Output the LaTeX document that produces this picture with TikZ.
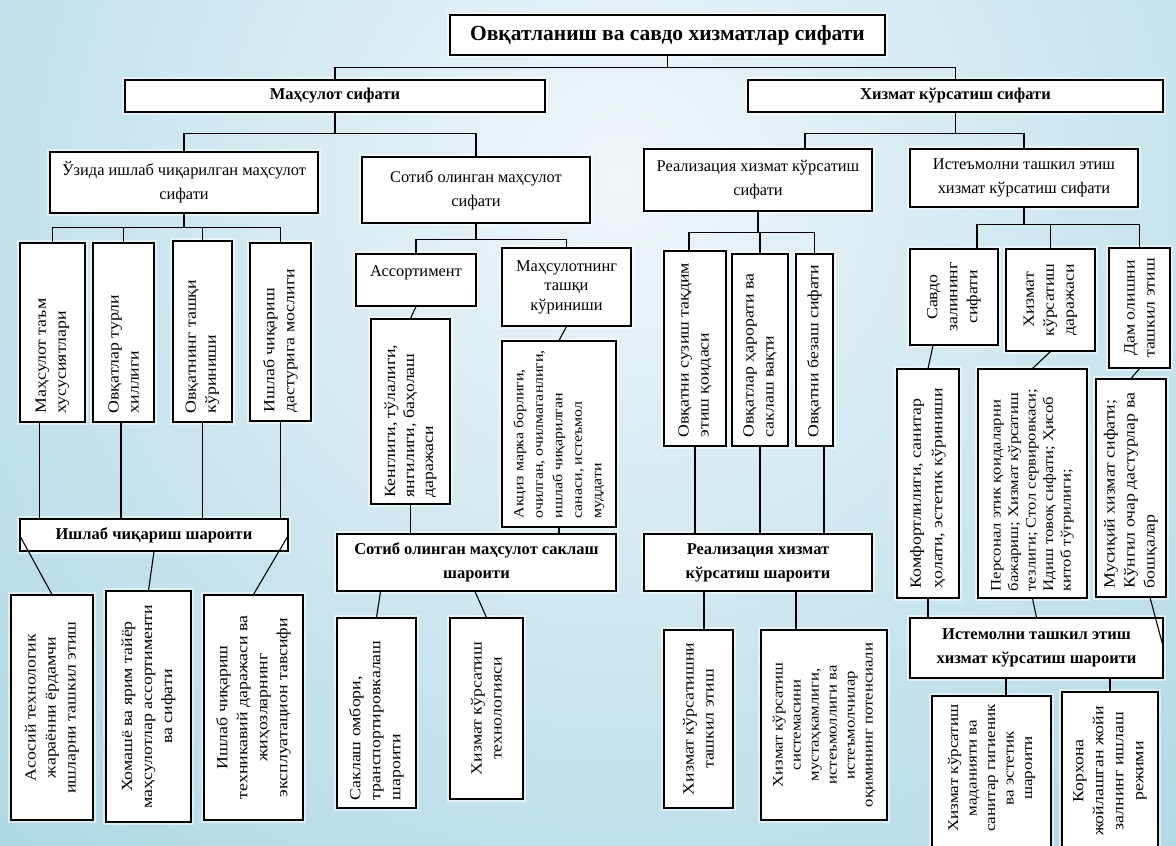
\documentclass[tikz,border=0pt]{standalone}
\usepackage{fontspec}
\setmainfont{Liberation Serif}
\definecolor{bgin}{RGB}{238,246,249}
\definecolor{bgout}{RGB}{150,204,221}
\tikzset{
 bx/.style={draw=black, fill=white, line width=1.1pt, inner sep=0pt,
   preaction={draw=white, line width=6pt, draw opacity=0.5}},
 ht/.style={align=center, font=\fontsize{16.4}{24}\selectfont},
 hb/.style={align=center, font=\fontsize{16.5}{24}\selectfont\bfseries},
 vt/.style={rotate=90, xscale=1.15, align=center, inner sep=0pt, font=\fontsize{15.5}{20}\selectfont},
 vtl/.style={vt, align=left, anchor=west},
 ln/.style={draw=black, line width=1.1pt},
}
\begin{document}
\begin{tikzpicture}[x=1pt,y=-1pt]
\useasboundingbox (0,0) rectangle (1176,846);
\clip (0,0) rectangle (1176,846);
\shade[inner color=bgin, outer color=bgout] (620,180) circle (1250);

% level 0-1
\node[bx, minimum width=435, minimum height=40, align=center, font=\fontsize{21.5}{24}\selectfont\bfseries] (T) at (667.5,35) {Овқатланиш ва савдо хизматлар сифати};
\node[bx, hb, minimum width=420, minimum height=32] (P) at (335,96) {Маҳсулот сифати};
\node[bx, hb, minimum width=415, minimum height=32] (S) at (955.5,96) {Хизмат кўрсатиш сифати};

% level 2
\node[bx, ht, minimum width=268, minimum height=61] (A) at (184,182.5) {Ўзида ишлаб чиқарилган маҳсулот\\сифати};
\node[bx, ht, minimum width=228, minimum height=66] (B) at (476,190) {Сотиб олинган маҳсулот\\сифати};
\node[bx, ht, minimum width=228, minimum height=62] (C) at (758,180) {Реализация хизмат кўрсатиш\\сифати};
\node[bx, ht, minimum width=228, minimum height=58] (D) at (1024,178) {Истеъмолни ташкил этиш\\хизмат кўрсатиш сифати};

% under A
\node[bx, minimum width=65, minimum height=179] (a1) at (52.5,332.5) {};
\node[bx, minimum width=61, minimum height=179] (a2) at (123.5,332.5) {};
\node[bx, minimum width=59, minimum height=181] (a3) at (202.5,331.5) {};
\node[bx, minimum width=61, minimum height=178] (a4) at (280.5,332) {};
\node[vtl] (a1t) at ([yshift=9pt]a1.south) {Маҳсулот таъм\\хусусиятлари};
\node[vtl] (a2t) at ([yshift=9pt]a2.south) {Овқатлар турли\\хиллиги};
\node[vtl] (a3t) at ([yshift=9pt]a3.south) {Овқатнинг ташқи\\кўриниши};
\node[vtl] (a4t) at ([yshift=9pt]a4.south) {Ишлаб чиқариш\\дастурига мослиги};
\node[bx, hb, minimum width=268, minimum height=32] (W) at (154,535) {Ишлаб чиқариш шароити};
\node[bx, minimum width=82, minimum height=225] (b1) at (52,707.5) {};
\node[bx, minimum width=85, minimum height=231] (b2) at (148.5,706.5) {};
\node[bx, minimum width=99, minimum height=225] (b3) at (253.5,707.5) {};
\node[vt] (b1t) at (b1) {Асосий технологик\\жараённи ёрдамчи\\ишларни ташкил этиш};
\node[vt] (b2t) at (b2) {Хомашё ва ярим тайёр\\маҳсулотлар ассортименти\\ва сифати};
\node[vt] (b3t) at (b3) {Ишлаб чиқариш\\техникавий даражаси ва\\жиҳозларнинг\\эксплуатацион тавсифи};

% under B
\node[bx, ht, minimum width=120, minimum height=52] (As) at (416,280) {Ассортимент\\[-6pt]\mbox{}};
\node[bx, align=center, font=\fontsize{16.4}{19.5}\selectfont, minimum width=129, minimum height=78] (M) at (566.5,287) {Маҳсулотнинг\\ташқи\\кўриниши};
\node[bx, minimum width=79, minimum height=185] (K) at (410.5,411.5) {};
\node[bx, minimum width=114, minimum height=186] (Z) at (559,434) {};
\node[vtl, font=\fontsize{15.5}{19}\selectfont] (Kt) at ([yshift=7pt]K.south) {Кенглиги, тўлалиги,\\янгилиги, баҳолаш\\даражаси};
\node[vtl, font=\fontsize{13.8}{19.5}\selectfont] (Zt) at ([yshift=9pt]Z.south) {Акциз марка борлиги,\\очилган, очилмаганлиги,\\ишлаб чиқарилган\\санаси, истеъмол\\муддати};
\node[bx, hb, minimum width=279, minimum height=57] (SS) at (476.5,562.5) {Сотиб олинган маҳсулот саклаш\\шароити};
\node[bx, minimum width=79, minimum height=190] (g1) at (376.5,713) {};
\node[bx, minimum width=73, minimum height=181] (g2) at (486.5,708.5) {};
\node[vtl] (g1t) at ([yshift=8pt]g1.south) {Саклаш омбори,\\транспортировкалаш\\шароити};
\node[vt] (g2t) at (g2) {Хизмат кўрсатиш\\технологияси};

% under C
\node[bx, minimum width=62, minimum height=195] (c1) at (695,348.5) {};
\node[bx, minimum width=56, minimum height=192] (c2) at (760,350) {};
\node[bx, minimum width=37, minimum height=192] (c3) at (814.5,350) {};
\node[vtl] (c1t) at ([yshift=9pt]c1.south) {Овқатни сузиш тақдим\\этиш қоидаси};
\node[vtl] (c2t) at ([yshift=9pt]c2.south) {Овқатлар ҳарорати ва\\саклаш вақти};
\node[vtl] (c3t) at ([yshift=9pt]c3.south) {Овқатни безаш сифати};
\node[bx, hb, minimum width=228, minimum height=57] (R) at (758,562.5) {Реализация хизмат\\кўрсатиш шароити};
\node[bx, minimum width=69, minimum height=178] (h1) at (698.5,719) {};
\node[bx, minimum width=126, minimum height=190] (h2) at (824,725) {};
\node[vt] (h1t) at (h1) {Хизмат кўрсатишни\\ташкил этиш};
\node[vt, font=\fontsize{14.5}{18}\selectfont] (h2t) at (h2) {Хизмат кўрсатиш\\системасини\\мустаҳкамлиги,\\истеъмоллиги ва\\истеъмолчилар\\оқимининг потенсиали};

% under D
\node[bx, minimum width=88, minimum height=96] (d1) at (954,297) {};
\node[bx, minimum width=89, minimum height=102] (d2) at (1050.5,300) {};
\node[bx, minimum width=61, minimum height=120] (d3) at (1139.5,308) {};
\node[vt] (d1t) at (d1) {Савдо\\залининг\\сифати};
\node[vt] (d2t) at (d2) {Хизмат\\кўрсатиш\\даражаси};
\node[vt] (d3t) at (d3) {Дам олишни\\ташкил этиш};
\node[bx, minimum width=62, minimum height=229] (e1) at (928,483.5) {};
\node[bx, minimum width=109, minimum height=229] (e2) at (1032.5,483.5) {};
\node[bx, minimum width=70, minimum height=218] (e3) at (1131,488) {};
\node[vtl, font=\fontsize{15.5}{21.5}\selectfont] (e1t) at ([yshift=10pt]e1.south) {Комфортлилиги, санитар\\ҳолати, эстетик кўриниши};
\node[vtl, font=\fontsize{14.5}{17.5}\selectfont] (e2t) at ([yshift=7pt]e2.south) {Персонал этик қоидаларни\\бажариш; Хизмат кўрсатиш\\тезлиги; Стол сервировкаси;\\Идиш товоқ сифати; Ҳисоб\\китоб тўғрилиги;};
\node[vtl] (e3t) at ([yshift=9pt]e3.south) {Мусиқий хизмат сифати;\\Кўнгил очар дастурлар ва\\бошқалар};
\node[bx, hb, minimum width=253, minimum height=60] (I) at (1036.5,648) {Истемолни ташкил этиш\\хизмат кўрсатиш шароити};
\node[bx, minimum width=119, minimum height=204] (f1) at (991.5,798) {};
\node[bx, minimum width=96, minimum height=212] (f2) at (1110,798) {};
\node[vt, font=\fontsize{14.8}{18.5}\selectfont] (f1t) at (991.5,768) {Хизмат кўрсатиш\\маданияти ва\\санитар гигиеник\\ва эстетик\\шароити};
\node[vt] (f2t) at (1110,771) {Корхона\\жойлашган жойи\\залнинг ишлаш\\режими};

% connectors
\draw[ln] (T.south) -- ++(0,12) coordinate (j1);
\draw[ln] (P.north) |- (j1) -| (S.north);
\draw[ln] (P.south) -- ++(0,21) coordinate (j2);
\draw[ln] (A.north) |- (j2) -| (B.north);
\draw[ln] (S.south) -- ++(0,21) coordinate (j3);
\draw[ln] ([xshift=47pt]C.north) |- (j3) -| (D.north);

\draw[ln] (A.south) -- ++(0,14) coordinate (j4);
\draw[ln] (a1.north) |- (j4) -| (a4.north);
\draw[ln] (a2.north) -- (a2.north |- j4);
\draw[ln] (a3.north) -- (a3.north |- j4);
\draw[ln] ([xshift=-13pt]a1.south) -- ([xshift=-13pt]a1.south |- W.north);
\draw[ln] ([xshift=-2.5pt]a2.south) -- ([xshift=-2.5pt]a2.south |- W.north);
\draw[ln] (a3.south) -- (a3.south |- W.north);
\draw[ln] (a4.south) -- (a4.south |- W.north);
\draw[ln] (W.west) -- (b1.north);
\draw[ln] (W.south) -- (b2.north);
\draw[ln] (W.east) -- (b3.north);

\draw[ln] (B.south) -- ++(0,16) coordinate (j5);
\draw[ln] (As.north) |- (j5) -| (M.north);
\draw[ln] (As.south) -- (K.north);
\draw[ln] (M.south) -- (Z.north);
\draw[ln] (K.south) -- (K.south |- SS.north);
\draw[ln] (Z.south) -- (Z.south |- SS.north);
\draw[ln] ([xshift=-96pt]SS.south) -- (g1.north);
\draw[ln] ([xshift=-1.5pt]SS.south) -- (g2.north);

\draw[ln] (C.south) -- ++(0,21) coordinate (j6);
\draw[ln] ([xshift=-6pt]c1.north) |- (j6) -| (c3.north);
\draw[ln] (c2.north) -- (c2.north |- j6);
\draw[ln] (c1.south) -- (c1.south |- R.north);
\draw[ln] (c2.south) -- (c2.south |- R.north);
\draw[ln] ([xshift=9.5pt]c3.south) -- ([xshift=9.5pt]c3.south |- R.north);
\draw[ln] ([xshift=5.5pt]h1.north |- R.south) -- ([xshift=5.5pt]h1.north);
\draw[ln] ([xshift=-28pt]h2.north |- R.south) -- ([xshift=-28pt]h2.north);

\draw[ln] (D.south) -- ++(0,17) coordinate (j7);
\draw[ln] ([xshift=23pt]d1.north) |- (j7) -| (d3.north);
\draw[ln] (d2.north) -- (d2.north |- j7);
\draw[ln] ([xshift=-21pt]d1.south) -- (e1.north);
\draw[ln] (d2.south) -- (e2.north);
\draw[ln] (d3.south) -- (e3.north);
\draw[ln] (e1.south) -- (e1.south |- I.north);
\draw[ln] (e2.south) -- (I.north);
\draw[ln] ([xshift=19pt]e3.south) -- (I.east);
\draw[ln] ([xshift=14.5pt]f1.north |- I.south) -- ([xshift=14.5pt]f1.north);
\draw[ln] (f2.north |- I.south) -- (f2.north);
\end{tikzpicture}
\end{document}
